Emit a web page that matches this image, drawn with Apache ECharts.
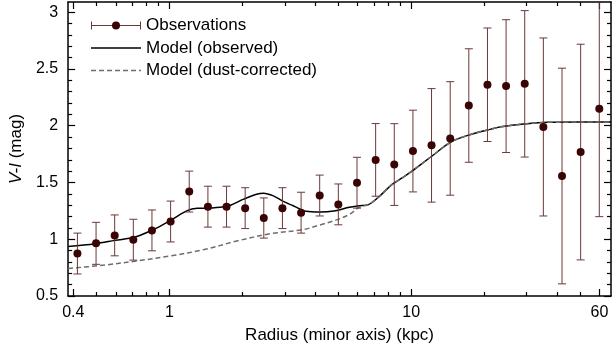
<!DOCTYPE html>
<html>
<head>
<meta charset="utf-8">
<script src="https://cdn.jsdelivr.net/npm/echarts@6/dist/echarts.min.js"></script>
<style>
html,body{margin:0;padding:0;background:#fff;}
#c{width:614px;height:349px;}
</style>
</head>
<body>
<div id="c"></div>
<script>
// Observations
const radius = [0.4162, 0.4970, 0.5935, 0.7087, 0.8464, 1.011, 1.207, 1.442, 1.722, 2.056, 2.455, 2.932, 3.502, 4.181, 4.993, 5.965, 7.124, 8.506, 10.16, 12.13, 14.49, 17.30, 20.66, 24.67, 29.46, 35.18, 42.02, 50.18, 59.93];
const colorVI = [0.874, 0.964, 1.034, 0.996, 1.078, 1.156, 1.420, 1.287, 1.287, 1.274, 1.187, 1.274, 1.234, 1.385, 1.307, 1.498, 1.699, 1.658, 1.777, 1.827, 1.888, 2.178, 2.361, 2.349, 2.369, 1.989, 1.557, 1.768, 2.149];
const colorErr = [0.18, 0.185, 0.18, 0.18, 0.18, 0.18, 0.18, 0.18, 0.18, 0.18, 0.177, 0.18, 0.18, 0.18, 0.18, 0.224, 0.32, 0.36, 0.36, 0.50, 0.50, 0.50, 0.50, 0.585, 0.645, 0.784, 0.95, 0.95, 0.95];

// Model (observed)
const modelObsR = [0.381, 0.4932, 0.5955, 0.7191, 0.8682, 1.016, 1.185, 1.302, 1.431, 1.679, 1.789, 2.028, 2.292, 2.448, 2.690, 2.956, 3.249, 3.672, 4.178, 4.872, 5.544, 6.092, 6.65, 7.356, 8.337, 9.161, 10.07, 12.15, 14.68, 17.72, 21.40, 23.51, 29.20, 36.61, 49.96, 67];
const modelObsV = [0.936, 0.961, 0.990, 1.019, 1.091, 1.170, 1.252, 1.272, 1.274, 1.287, 1.300, 1.353, 1.396, 1.405, 1.382, 1.333, 1.295, 1.246, 1.240, 1.252, 1.281, 1.295, 1.305, 1.375, 1.483, 1.54, 1.60, 1.731, 1.86, 1.925, 1.97, 1.99, 2.015, 2.03, 2.032, 2.032];

// Model (dust-corrected)
const modelDustR = [0.381, 0.5419, 0.7396, 1.016, 1.391, 1.898, 2.608, 3.569, 4.178, 4.872, 5.544, 6.092, 6.65, 7.356, 8.337, 9.161, 10.07, 12.15, 14.68, 17.72, 21.40, 23.51, 29.20, 36.61, 49.96, 67];
const modelDustV = [0.742, 0.773, 0.810, 0.854, 0.909, 0.984, 1.048, 1.085, 1.125, 1.168, 1.218, 1.281, 1.305, 1.375, 1.483, 1.54, 1.60, 1.731, 1.86, 1.925, 1.97, 1.99, 2.015, 2.03, 2.032, 2.032];

// Axis ticks / labels
const xMajorTicks = [0.4, 1, 10, 60];
const xMinorTicks = [0.5, 0.6, 0.7, 0.8, 0.9, 2, 3, 4, 5, 6, 7, 8, 9, 20, 30, 40, 50];
const yMajorTicks = [0.5, 1, 1.5, 2, 2.5, 3];
const yMinorTicks = [0.6, 0.7, 0.8, 0.9, 1.1, 1.2, 1.3, 1.4, 1.6, 1.7, 1.8, 1.9, 2.1, 2.2, 2.3, 2.4, 2.6, 2.7, 2.8, 2.9];

const X_MIN = 0.381, X_MAX = 67, Y_MIN = 0.5, Y_MAX = 3.09;
const FONT = 'Liberation Sans, Arial, Helvetica, sans-serif';
const BAR_COLOR = '#6b3838';
const DOT_COLOR = '#3a0404';
const DASH_COLOR = '#6e6e6e';

function svgIcon(inner) {
  const s = "<svg xmlns='http://www.w3.org/2000/svg' width='50' height='10'>" + inner + "</svg>";
  return 'image://data:image/svg+xml;charset=utf-8,' + encodeURIComponent(s);
}
const obsIcon = svgIcon(
  "<line x1='0.5' y1='5' x2='49.5' y2='5' stroke='" + BAR_COLOR + "' stroke-width='1'/>" +
  "<line x1='0.5' y1='1' x2='0.5' y2='9' stroke='" + BAR_COLOR + "' stroke-width='1'/>" +
  "<line x1='49.5' y1='1' x2='49.5' y2='9' stroke='" + BAR_COLOR + "' stroke-width='1'/>" +
  "<circle cx='25' cy='5' r='4' fill='" + DOT_COLOR + "'/>");
const solidIcon = svgIcon("<line x1='0' y1='5' x2='50' y2='5' stroke='#000' stroke-width='1.6'/>");
const dashIcon = svgIcon("<line x1='0' y1='5' x2='50' y2='5' stroke='" + DASH_COLOR + "' stroke-width='1.6' stroke-dasharray='5,3'/>");

function xAx(pos, major) {
  return {
    type: 'log', logBase: 10, position: pos, min: X_MIN, max: X_MAX,
    gridIndex: 0,
    axisLine: { show: major, onZero: false, lineStyle: { color: '#000', width: 1.5 } },
    axisTick: { show: true, inside: true, length: major ? 7 : 4, customValues: major ? xMajorTicks : xMinorTicks, lineStyle: { color: '#000', width: 1.2 } },
    axisLabel: { show: major && pos === 'bottom', customValues: xMajorTicks, margin: 9, color: '#000', fontSize: 16, fontFamily: FONT, formatter: v => String(+v.toPrecision(3)) },
    splitLine: { show: false },
    minorTick: { show: false },
    name: (major && pos === 'bottom') ? 'Radius (minor axis) (kpc)' : '',
    nameLocation: 'middle', nameGap: 31,
    nameTextStyle: { color: '#000', fontSize: 17, fontFamily: FONT }
  };
}
function yAx(pos, major) {
  return {
    type: 'value', position: pos, min: Y_MIN, max: Y_MAX,
    gridIndex: 0,
    axisLine: { show: major, onZero: false, lineStyle: { color: '#000', width: 1.5 } },
    axisTick: { show: true, inside: true, length: major ? 7 : 4, customValues: major ? yMajorTicks : yMinorTicks, lineStyle: { color: '#000', width: 1.2 } },
    axisLabel: { show: major && pos === 'left', customValues: yMajorTicks, margin: 10, color: '#000', fontSize: 16, fontFamily: FONT },
    splitLine: { show: false },
    minorTick: { show: false },
    name: (major && pos === 'left') ? '{i|V-I} (mag)' : '',
    nameLocation: 'middle', nameGap: 39, nameRotate: 90,
    nameTextStyle: { color: '#000', fontSize: 17, fontFamily: FONT, rich: { i: { fontStyle: 'italic', fontSize: 17, fontFamily: FONT, color: '#000' } } }
  };
}

const chart = echarts.init(document.getElementById('c'), null, { renderer: 'canvas' });
chart.setOption({
  animation: false,
  backgroundColor: '#fff',
  grid: { left: 62, right: 3, top: 2, bottom: 49, containLabel: false },
  xAxis: [xAx('bottom', true), xAx('bottom', false), xAx('top', true), xAx('top', false)],
  yAxis: [yAx('left', true), yAx('left', false), yAx('right', true), yAx('right', false)],
  legend: {
    orient: 'vertical', left: 86, top: 12,
    itemWidth: 50, itemHeight: 10, itemGap: 5.5,
    textStyle: { color: '#000', fontSize: 17, fontFamily: FONT },
    data: [
      { name: 'Observations', icon: obsIcon },
      { name: 'Model (observed)', icon: solidIcon },
      { name: 'Model (dust-corrected)', icon: dashIcon }
    ]
  },
  series: [
    {
      name: 'Model (observed)', type: 'line', xAxisIndex: 0, yAxisIndex: 0,
      data: modelObsR.map((r, i) => [r, modelObsV[i]]),
      symbol: 'none', smooth: 0.35, z: 2,
      lineStyle: { color: '#000', width: 1.5 }, itemStyle: { color: '#000' }
    },
    {
      name: 'Model (dust-corrected)', type: 'line', xAxisIndex: 0, yAxisIndex: 0,
      data: modelDustR.map((r, i) => [r, modelDustV[i]]),
      symbol: 'none', smooth: 0.35, z: 3,
      lineStyle: { color: DASH_COLOR, width: 1.5, type: [5, 3] }, itemStyle: { color: DASH_COLOR }
    },
    {
      name: 'errbars', type: 'custom', xAxisIndex: 0, yAxisIndex: 0, clip: true, z: 4, silent: true,
      data: radius.map((r, i) => [r, colorVI[i] - colorErr[i], colorVI[i] + colorErr[i]]),
      encode: { x: 0, y: [1, 2] },
      renderItem: function (params, api) {
        const x = api.value(0);
        const p1 = api.coord([x, api.value(1)]);
        const p2 = api.coord([x, api.value(2)]);
        const hw = 4;
        const st = { stroke: BAR_COLOR, lineWidth: 1 };
        return {
          type: 'group', children: [
            { type: 'line', shape: { x1: p1[0], y1: p1[1], x2: p2[0], y2: p2[1] }, style: st },
            { type: 'line', shape: { x1: p1[0] - hw, y1: p1[1], x2: p1[0] + hw, y2: p1[1] }, style: st },
            { type: 'line', shape: { x1: p2[0] - hw, y1: p2[1], x2: p2[0] + hw, y2: p2[1] }, style: st }
          ]
        };
      }
    },
    {
      name: 'Observations', type: 'scatter', xAxisIndex: 0, yAxisIndex: 0, z: 5,
      data: radius.map((r, i) => [r, colorVI[i]]),
      symbol: 'circle', symbolSize: 8,
      itemStyle: { color: DOT_COLOR, opacity: 1 }
    }
  ]
});
</script>
</body>
</html>
